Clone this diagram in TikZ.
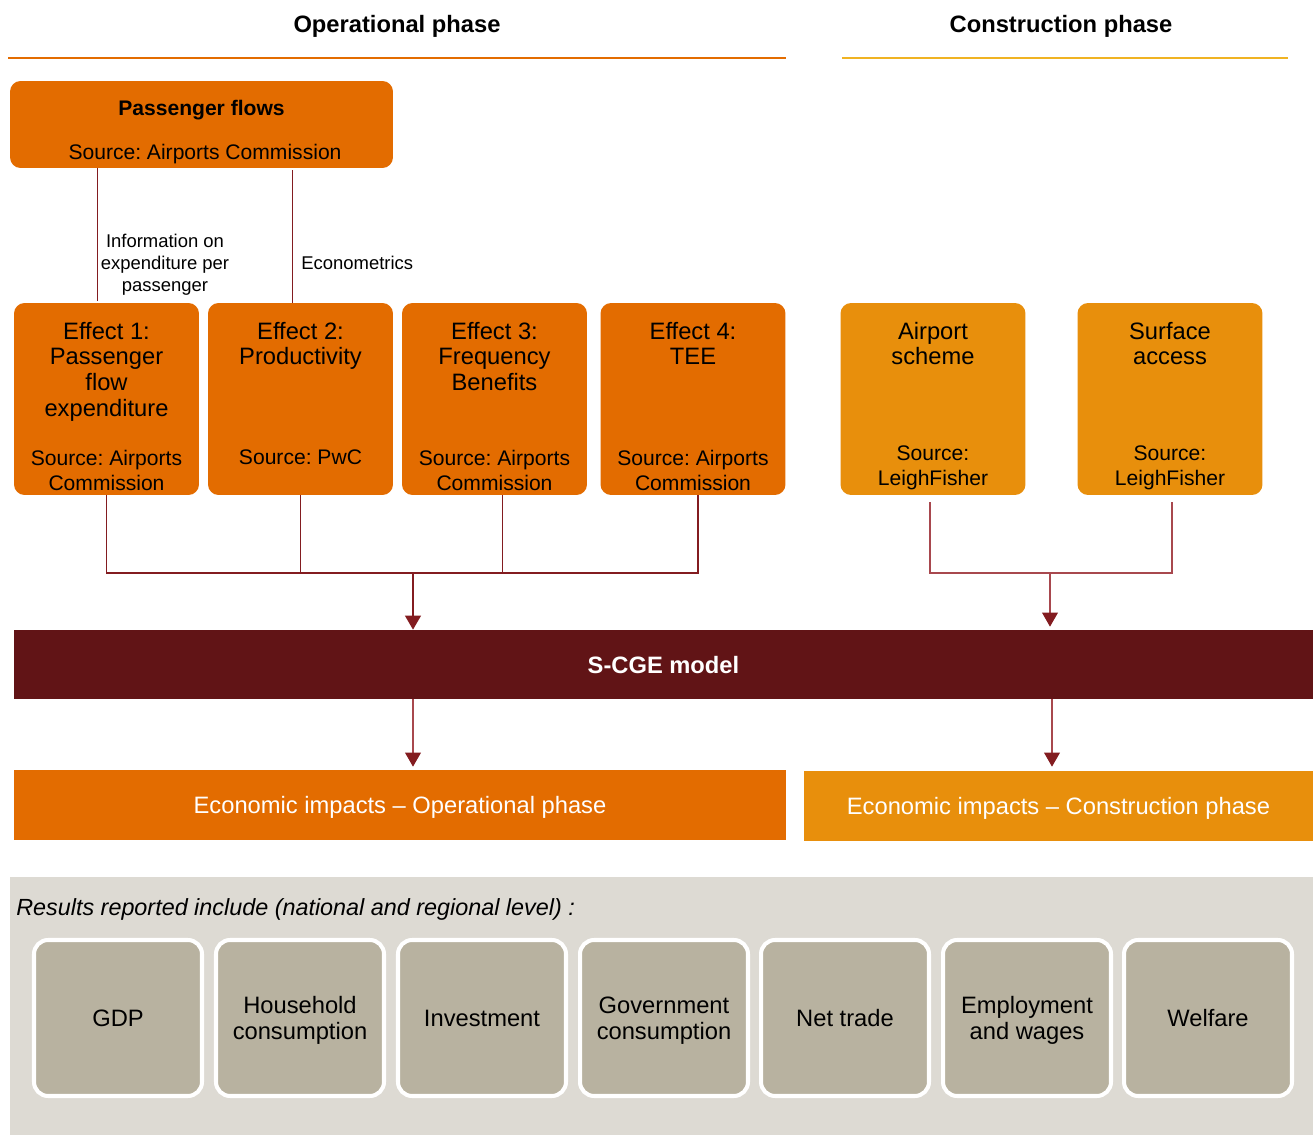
\documentclass[tikz,border=0pt]{standalone}
\usepackage{fontspec}
\setmainfont{Liberation Sans}
\usepackage{xcolor}
\usetikzlibrary{arrows.meta,positioning,calc}
\frenchspacing

\definecolor{oporange}{HTML}{E36C00}
\definecolor{conorange}{HTML}{E88F0C}
\definecolor{conyellow}{HTML}{F0B323}
\definecolor{linkred}{HTML}{831C20}
\definecolor{linkpale}{HTML}{A8484E}
\definecolor{cgered}{HTML}{611416}
\definecolor{panelgrey}{HTML}{DDDAD3}
\definecolor{resultgrey}{HTML}{B8B2A0}

\tikzset{
  phasetitle/.style={font=\fontsize{13.5}{16}\selectfont\bfseries, inner sep=0pt},
  pfbox/.style={fill=oporange, rounded corners=6pt, minimum width=7.66cm, minimum height=1.74cm},
  effbox/.style={fill=oporange, rounded corners=6pt, minimum width=3.7cm, minimum height=3.84cm},
  conbox/.style={effbox, fill=conorange},
  efftitle/.style={anchor=north, align=center, inner sep=0pt, font=\fontsize{13.5}{14.6}\selectfont},
  effsource/.style={anchor=north, align=center, inner sep=0pt, font=\fontsize{12}{14.3}\selectfont},
  linklabel/.style={inner sep=0pt, align=center, font=\fontsize{10.5}{12.5}\selectfont},
  oplink/.style={draw=linkred, line width=1.1pt},
  conlink/.style={draw=linkpale, line width=0.7pt},
  downtip/.style={-{Triangle[width=9pt,length=8pt,color=linkred]}},
  impactbar/.style={text=white, minimum height=1.4cm, text depth=0pt, font=\fontsize{13.5}{16}\selectfont},
  resbox/.style={draw=white, line width=2.3pt, fill=resultgrey, rounded corners=8pt, text depth=0pt,
    minimum width=3.36cm, minimum height=3.12cm, align=center, font=\fontsize{13.5}{14.8}\selectfont}
}

\begin{document}
\begin{tikzpicture}[x=0.02cm, y=-0.02cm]
\useasboundingbox (0,0) rectangle (1313,1135);

% phase headings
\node[phasetitle] (optitle) at (397,26) {Operational phase};
\node[phasetitle] (contitle) at (1061,26) {Construction phase};
\draw[oporange, line width=0.85pt] (8,58) -- (786,58);
\draw[conyellow, line width=0.85pt] (842,58) -- (1288,58);

% passenger flows
\node[pfbox] (pf) at (201.5,124.5) {};
\node[font=\fontsize{12}{14}\selectfont\bfseries, inner sep=0pt] (pftitle) at (201.5,110) {Passenger flows};
\node[font=\fontsize{12}{14}\selectfont, inner sep=0pt] (pfsource) at (205,154) {Source: Airports Commission};

% effects (operational)
\node[effbox] (e1) at (106.5,399) {};
\node[effbox] (e2) at (300.5,399) {};
\node[effbox] (e3) at (494.5,399) {};
\node[effbox] (e4) at (693,399) {};
\node[efftitle] (e1t) at ($(e1.north)+(0,19)$) {Effect 1:\\Passenger\\flow\\expenditure};
\node[efftitle] (e2t) at ($(e2.north)+(0,19)$) {Effect 2:\\Productivity};
\node[efftitle] (e3t) at ($(e3.north)+(0,19)$) {Effect 3:\\Frequency\\Benefits};
\node[efftitle] (e4t) at ($(e4.north)+(0,19)$) {Effect 4:\\TEE};
\node[effsource] (e1s) at ($(e1.north)+(0,147)$) {Source: Airports\\Commission};
\node[effsource] (e2s) at ($(e2.north)+(0,147)$) {Source: PwC};
\node[effsource] (e3s) at ($(e3.north)+(0,147)$) {Source: Airports\\Commission};
\node[effsource] (e4s) at ($(e4.north)+(0,147)$) {Source: Airports\\Commission};

% construction inputs
\node[conbox] (as) at (933,399) {};
\node[conbox] (sa) at (1170,399) {};
\node[efftitle] (ast) at ($(as.north)+(0,19)$) {Airport\\scheme};
\node[efftitle] (sat) at ($(sa.north)+(0,19)$) {Surface\\access};
\node[effsource] (ass) at ($(as.north)+(0,143)$) {Source:\\LeighFisher};
\node[effsource] (sas) at ($(sa.north)+(0,143)$) {Source:\\LeighFisher};

% links from passenger flows
\draw[oplink, line width=0.9pt] ($(e1.north)+(-9,-2)$) -- ($(e1.north |- pf.south)+(-9,0)$);
\draw[oplink] ($(e2.north)+(-8,0)$) -- ($(e2.north |- pf.south)+(-8,2)$);
\node[linklabel] (infolab) at (165,265) {Information on\\expenditure per\\passenger};
\node[linklabel, anchor=west] (ecolab) at (301,263) {Econometrics};

% S-CGE
\node[fill=cgered, text=white, minimum width=25.98cm, minimum height=1.38cm, text depth=0pt,
  font=\fontsize{13.5}{16}\selectfont\bfseries] (cge) at (663.5,664.5) {S-CGE model};

\coordinate (opjoin) at (413,573);
\draw[oplink] (e1.south) |- ($(e4.south |- opjoin)+(5,0)$) -- ($(e4.south)+(5,0)$);
\draw[oplink] (e2.south) -- (e2.south |- opjoin);
\draw[oplink] ($(e3.south)+(8,0)$) -- ($(e3.south |- opjoin)+(8,0)$);
\draw[oplink, downtip] (opjoin) -- (opjoin |- cge.north);

\coordinate (conjoin) at (1050,573);
\draw[conlink] ($(as.south)+(-3,7)$) |- ($(sa.south |- conjoin)+(2,0)$) -- ($(sa.south)+(2,7)$);
\draw[conlink, downtip] (conjoin) -- ($(conjoin |- cge.north)+(0,-3)$);

% economic impacts
\node[impactbar, fill=oporange, minimum width=15.44cm] (eop) at (400,805) {Economic impacts – Operational phase};
\node[impactbar, fill=conorange, minimum width=10.18cm] (econ) at (1058.5,806) {Economic impacts – Construction phase};
\draw[conlink, downtip] (cge.south -| opjoin) -- ($(eop.north -| opjoin)+(0,-3)$);
\draw[conlink, downtip] ($(cge.south -| conjoin)+(2,0)$) -- ($(econ.north -| conjoin)+(2,-4)$);

% results panel
\node[fill=panelgrey, minimum width=26.06cm, minimum height=5.16cm] (panel) at (661.5,1006) {};
\node[anchor=west, inner sep=0pt, font=\fontsize{13.3}{16}\selectfont\itshape] (restitle) at (16,909)
  {Results reported include (national and regional level) :};
\node[resbox] (gdp) at (118,1018) {GDP};
\node[resbox] (hh) at (300,1018) {Household\\consumption};
\node[resbox] (inv) at (482,1018) {Investment};
\node[resbox] (gov) at (664,1018) {Government\\consumption};
\node[resbox] (trade) at (845,1018) {Net trade};
\node[resbox] (emp) at (1027,1018) {Employment\\and wages};
\node[resbox] (wel) at (1208,1018) {Welfare};
\end{tikzpicture}
\end{document}
